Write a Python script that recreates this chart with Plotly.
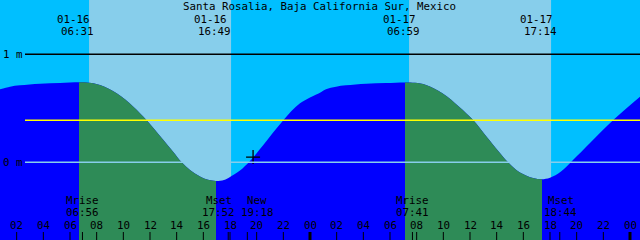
import plotly.graph_objects as go

# ---------------- data ----------------
W, H = 640, 240
X_RANGE = [0.75, 48.75]          # hours since 01-16 00:00
Y_RANGE = [-0.719, 1.503]        # metres

tide_hours = [0.75, 1.5, 2.25, 3.75, 5.25, 6.675, 7.425, 8.25, 9.5, 10.75, 11.75,
              12.75, 13.75, 14.375, 15.0, 15.75, 16.35, 16.95, 17.55, 18.0, 18.75,
              19.5, 20.5, 22.0, 23.25, 24.75,
              25.2, 25.95, 26.7, 28.2, 29.7, 31.125, 31.875, 32.7, 33.93, 35.18,
              36.25, 37.2, 38.18, 38.85, 39.45, 40.2, 40.8, 41.38, 42.0, 42.825,
              43.725, 45.0, 46.725, 48.75]
tide_m = [0.676, 0.700, 0.713, 0.728, 0.734, 0.741, 0.737, 0.716, 0.639, 0.515, 0.389,
          0.244, 0.095, 0.0, -0.071, -0.131, -0.162, -0.173, -0.164, -0.136, -0.076,
          0.012, 0.160, 0.389, 0.546, 0.644,
          0.676, 0.700, 0.713, 0.728, 0.734, 0.740, 0.736, 0.716, 0.639, 0.515,
          0.389, 0.244, 0.095, 0.0, -0.068, -0.122, -0.148, -0.157, -0.143, -0.085,
          0.021, 0.179, 0.389, 0.607]

title_text = "Santa Rosalia, Baja California Sur, Mexico"

hilo_hours = [6.517, 16.817, 30.983, 41.233]
hilo_dates = ["01-16", "01-16", "01-17", "01-17"]
hilo_times = ["06:31", "16:49", "06:59", "17:14"]

sunrise_hours = [7.43, 31.43]
sunset_hours = [18.08, 42.08]
ebb_start_hours = [6.675, 31.125]
ebb_end_hours = [16.95, 41.4]

moon_hours = [6.933, 17.867, 19.3, 31.683, 42.733]
moon_names = ["Mrise", "Mset", "New", "Mrise", "Mset"]
moon_times = ["06:56", "17:52", "19:18", "07:41", "18:44"]
moon_label_shift = [0, -9.5, 10, 0, 1]

tick_hours = [2, 4, 6, 8, 10, 12, 14, 16, 18, 20, 22,
              26, 28, 30, 32, 34, 36, 38, 40, 42, 44, 46]
tick_labels = ["02", "04", "06", "08", "10", "12", "14", "16", "18", "20", "22",
               "02", "04", "06", "08", "10", "12", "14", "16", "18", "20", "22"]
midnight_hours = [24, 48]
midnight_labels = ["00", "00"]

level_values = [1, 0]
level_labels = ["1 m", "0 m"]
msl_m = 0.389

mark_hour, mark_m = 19.73, 0.049

# ---------------- style ----------------
NIGHT_SKY = "#00BFFF"
DAY_SKY = "#87CEEB"
FLOOD = "#0000FF"
EBB = "#2E8B57"
FONT = dict(family="DejaVu Sans Mono", size=10.8, color="black")

def xpx(h):
    return (h - X_RANGE[0]) / (X_RANGE[1] - X_RANGE[0])

def ypaper(px):
    return 1 - px / H

fig = go.Figure()

# main water (flood colour)
fig.add_trace(go.Scatter(x=[X_RANGE[0], X_RANGE[1]], y=[-2, -2], mode="lines",
                         line=dict(width=0), hoverinfo="skip", showlegend=False))
fig.add_trace(go.Scatter(x=tide_hours, y=tide_m, mode="lines", fill="tonexty",
                         fillcolor=FLOOD, line=dict(width=0, shape="spline", smoothing=1),
                         hoverinfo="skip", showlegend=False))

layout_extra = {}
for i, (a, b) in enumerate(zip(ebb_start_hours, ebb_end_hours)):
    n = i + 2
    xa, ya = f"x{n}", f"y{n}"
    layout_extra[f"xaxis{n}"] = dict(domain=[xpx(a), xpx(b)], range=[a, b],
                                      visible=False, anchor=ya, fixedrange=True)
    layout_extra[f"yaxis{n}"] = dict(domain=[0, 1], range=Y_RANGE,
                                      visible=False, anchor=xa, fixedrange=True)
    fig.add_trace(go.Scatter(x=[X_RANGE[0], X_RANGE[1]], y=[-2, -2], mode="lines",
                             line=dict(width=0), xaxis=xa, yaxis=ya,
                             hoverinfo="skip", showlegend=False))
    fig.add_trace(go.Scatter(x=tide_hours, y=tide_m, mode="lines", fill="tonexty",
                             fillcolor=EBB, line=dict(width=0, shape="spline", smoothing=1),
                             xaxis=xa, yaxis=ya, hoverinfo="skip", showlegend=False))

# "+" mark
fig.add_trace(go.Scatter(x=[mark_hour], y=[mark_m], mode="markers",
                         marker=dict(symbol="cross-thin", size=10,
                                     line=dict(color="black", width=1.3)),
                         hoverinfo="skip", showlegend=False))

shapes = []
for a, b in zip(sunrise_hours, sunset_hours):
    shapes.append(dict(type="rect", xref="x", yref="paper", x0=a, x1=b, y0=0, y1=1,
                       fillcolor=DAY_SKY, line=dict(width=0), layer="below"))

# level lines
x_line0 = 25 / W
shapes.append(dict(type="line", xref="paper", yref="y", x0=x_line0, x1=1,
                   y0=level_values[0], y1=level_values[0],
                   line=dict(color="black", width=1.5), layer="above"))
shapes.append(dict(type="line", xref="paper", yref="y", x0=x_line0, x1=1,
                   y0=msl_m, y1=msl_m, line=dict(color="yellow", width=1.5), layer="above"))
shapes.append(dict(type="line", xref="paper", yref="y", x0=x_line0, x1=1,
                   y0=level_values[1], y1=level_values[1],
                   line=dict(color=DAY_SKY, width=1.5), layer="above"))

# ticks
tick_len = 8 / H
for h in tick_hours + moon_hours:
    shapes.append(dict(type="line", xref="x", yref="paper", x0=h, x1=h, y0=0, y1=tick_len,
                       line=dict(color="black", width=1), layer="above"))
for h in midnight_hours:
    shapes.append(dict(type="line", xref="x", yref="paper", x0=h, x1=h, y0=0, y1=tick_len,
                       line=dict(color="black", width=3), layer="above"))

ann = []
ann.append(dict(text=title_text, xref="paper", yref="paper", x=0.4985, y=ypaper(6.5),
                xanchor="center", yanchor="middle", showarrow=False, font=FONT, borderpad=0))
for h, d, t in zip(hilo_hours, hilo_dates, hilo_times):
    ann.append(dict(text=d, xref="x", yref="paper", x=h, y=ypaper(19.2), xshift=-3.5,
                    xanchor="center", yanchor="middle", showarrow=False, font=FONT, borderpad=0))
    ann.append(dict(text=t, xref="x", yref="paper", x=h, y=ypaper(31.9), xshift=0.6,
                    xanchor="center", yanchor="middle", showarrow=False, font=FONT, borderpad=0))
for h, nme, t, s in zip(moon_hours, moon_names, moon_times, moon_label_shift):
    ann.append(dict(text=nme, xref="x", yref="paper", x=h, y=ypaper(200.2), xshift=s,
                    xanchor="center", yanchor="middle", showarrow=False, font=FONT, borderpad=0))
    ann.append(dict(text=t, xref="x", yref="paper", x=h, y=ypaper(212.9), xshift=s,
                    xanchor="center", yanchor="middle", showarrow=False, font=FONT, borderpad=0))
for h, lab in zip(tick_hours + midnight_hours, tick_labels + midnight_labels):
    ann.append(dict(text=lab, xref="x", yref="paper", x=h, y=ypaper(225.6),
                    xanchor="center", yanchor="middle", showarrow=False, font=FONT, borderpad=0))
for v, lab in zip(level_values, level_labels):
    ann.append(dict(text=lab, xref="paper", yref="y", x=2 / W, y=v,
                    xanchor="left", yanchor="middle", showarrow=False, font=FONT, borderpad=0))

fig.update_layout(
    width=W, height=H, margin=dict(l=0, r=0, t=0, b=0),
    paper_bgcolor=NIGHT_SKY, plot_bgcolor="rgba(0,0,0,0)",
    xaxis=dict(range=X_RANGE, visible=False, fixedrange=True),
    yaxis=dict(range=Y_RANGE, visible=False, fixedrange=True),
    shapes=shapes, annotations=ann, showlegend=False,
    **layout_extra,
)

fig.write_html("out.html", config={"displayModeBar": False})
